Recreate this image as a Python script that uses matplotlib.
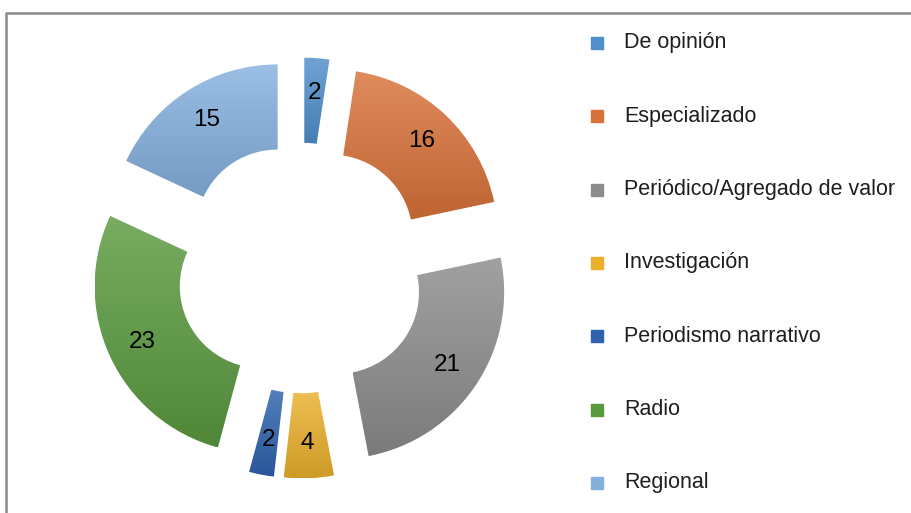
import numpy as np
import matplotlib
matplotlib.use('Agg')
import matplotlib.pyplot as plt
from matplotlib.colors import to_rgb
from matplotlib.patches import Rectangle
from matplotlib.lines import Line2D

# Data
categories = ['De opinión', 'Especializado', 'Periódico/Agregado de valor',
              'Investigación', 'Periodismo narrativo', 'Radio', 'Regional']
values = [2, 16, 21, 4, 2, 23, 15]
colors = ['#4F8FCB', '#D9723A', '#8C8C8C', '#EAB02C', '#2D62AE', '#5A9A3F', '#84B0DE']

plt.rcParams['font.family'] = ['Liberation Sans', 'DejaVu Sans']

W, H = 912, 513
fig = plt.figure(figsize=(W / 100, H / 100), dpi=100)

# pie axes spanning the whole figure, 1 data unit = R pixels
R = 167
cx, cy = 301, H - 268
ax = fig.add_axes([0, 0, 1, 1])
wedges, texts, autotexts = ax.pie(
    values, colors=colors, startangle=90, counterclock=False,
    explode=[0.26] * len(values),
    wedgeprops=dict(width=0.51, linewidth=0),
    autopct=lambda p: '{:.0f}'.format(p * sum(values) / 100),
    pctdistance=0.79, textprops=dict(fontsize=17.5, color='black'))
ax.set_aspect('auto')
ax.axis('off')


def shade(c, f):
    c = np.array(to_rgb(c))
    if f > 0:
        return c + (1 - c) * f
    return c * (1 + f)


# vertical gradient in each wedge, lighter at top
for w, c in zip(wedges, colors):
    w.set_facecolor('none')
    bb = w.get_path().get_extents(w.get_transform() + ax.transData.inverted())
    top, bot = shade(c, 0.18), shade(c, -0.12)
    t = np.linspace(0, 1, 64)[:, None]
    grad = (top[None, :] * (1 - t) + bot[None, :] * t)[:, None, :]
    im = ax.imshow(grad, extent=[bb.x0, bb.x1, bb.y0, bb.y1], origin='upper',
                   aspect='auto', zorder=0.5, interpolation='bilinear')
    im.set_clip_path(w)
ax.set_xlim(-cx / R, (W - cx) / R)
ax.set_ylim(-cy / R, (H - cy) / R)

# legend
for i, (lab, c) in enumerate(zip(categories, colors)):
    y = 43 + i * 73.3
    fig.patches.append(Rectangle((591 / W, 1 - (y + 6) / H), 12 / W, 12 / H,
                                 transform=fig.transFigure, color=c))
    fig.text(624 / W, 1 - y / H, lab, fontsize=15.5, va='center', ha='left',
             color='#1e1e1e')

# chart frame
fig.add_artist(Line2D([6 / W, 6 / W, 1.0], [0, 1 - 13 / H, 1 - 13 / H],
                      transform=fig.transFigure, color='#8a8a8a', lw=1.8))

fig.savefig('out.png', dpi=100)
